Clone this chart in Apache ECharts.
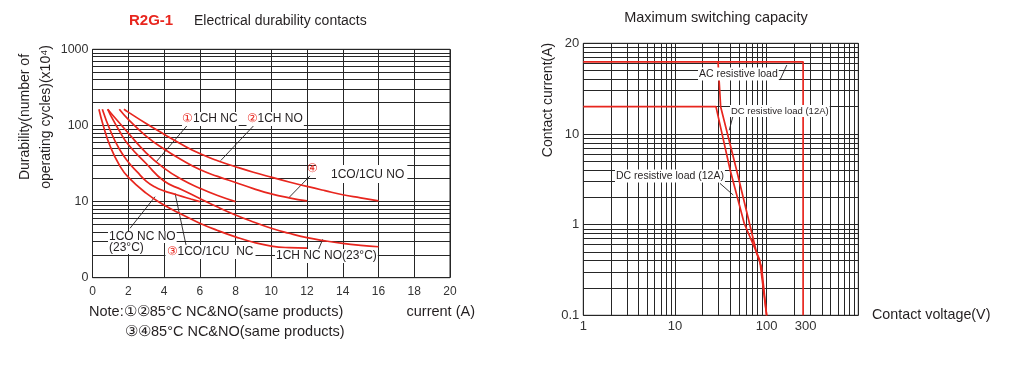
<!DOCTYPE html>
<html>
<head>
<meta charset="utf-8">
<script src="https://cdn.jsdelivr.net/npm/echarts@6/dist/echarts.min.js"></script>
<style>html,body{margin:0;padding:0;background:#fff;}#c{width:1020px;height:377px;}</style>
</head>
<body>
<div id="c"></div>
<script>
// ---------- Left chart: Electrical durability (x: current A, y: cycles x10^4, log) ----------
const curve1CHNC     = [[0.85,163],[1,147.9],[2,79.4],[3,43.7],[4,27.5],[5,19.5],[6,15.0],[7,12.0],[8,10.0]];
const curve1CHNO     = [[1.76,163],[2,149.6],[3,105.9],[4,76.7],[5,56.2],[6,42.7],[7,34.3],[8,28.7],[9,24.3],[10,20.9],[11,18.1],[12,15.8],[13,13.9],[14,12.3],[15,11.2],[16,10.2]];
const curve1CO1CUNC  = [[0.55,163],[1,85.1],[1.5,49],[2,33.1],[2.5,24.5],[3,18.6],[3.5,15.5],[4,13.8],[4.5,12.7],[5,11.7],[5.5,10.8],[6,10.0]];
const curve1CO1CUNO  = [[1.5,163],[2,120.2],[3,72.4],[4,49],[5,35.1],[6,26.3],[7,21.4],[8,17.8],[9,14.8],[10,12.6],[11,11.2],[12,10.2]];
const curve1CONCNO23 = [[0.36,163],[0.6,100],[1,52.5],[1.5,30.2],[2,20.9],[3,12.9],[4,9.0],[5,6.76],[6,5.2],[7,4.17],[8,3.44],[9,2.92],[10,2.6],[11,2.48],[12,2.45]];
const curve1CHNCNO23 = [[0.85,163],[1,138],[1.5,85.1],[2,56.2],[3,31.6],[4,18.6],[5,14.3],[6,11.0],[7,8.47],[8,6.67],[9,5.40],[10,4.46],[11,3.83],[12,3.36],[13,3.05],[14,2.82],[15,2.66],[16,2.55]];
const leftYTickLabels = ['0', '10', '100', '1000'];            // at 1, 10, 100, 1000
const leftMinorY = [2,3,4,5,6,7,8,9,20,30,40,50,60,70,80,90,200,300,400,500,600,700,800,900];

// ---------- Right chart: Maximum switching capacity (log-log) ----------
const acLoad      = [[1,62.5],[250,62.5],[250,0.1]];
const acLoadCurve = [[29.5,62.5],[31.5,20],[47,4],[78,0.48],[88,0.34],[100,0.1]];
const dcLoad      = [[1,20],[28,20],[40,4],[57,1.03],[84,0.41],[100,0.1]];
const rightYTickLabels = ['0.1', '1', '10', '20'];             // at 0.1, 1, 10, 100
const rightXTickPos    = [0, 1, 2, 2.425];                     // log10 positions of labels
const rightXTickLabels = ['1', '10', '100', '300'];
const rightMinorX = [2,3,4,5,6,7,8,9,20,30,40,50,60,70,80,90,200,300,400,500,600,700,800,900];
const rightMinorY = [0.2,0.3,0.4,0.5,0.6,0.7,0.8,0.9,2,3,4,5,6,7,8,9,20,30,40,50,60,70,80,90];

// ---------- Annotation leader lines (data coordinates) ----------
const leftLeaders = [
  [[5.3,100],[3.55,33]],
  [[9.03,100],[7.17,34.5]],
  [[12.17,21.7],[11.01,11.4]],
  [[2.1,4.46],[3.5,11.6]],
  [[5.23,2.69],[4.62,12.8]],
  [[12.63,2.31],[12.88,3.2]]
];
const rightLeaders = [
  [[139.7,39.3],[166,57.5]],
  [[43.2,16.1],[39.1,11.0]],
  [[31,2.85],[43.2,2.12]]
];

const FONT = '"Liberation Sans", Arial, Helvetica, sans-serif';
const RED = '#e8261e';
const INK = '#231f20';
const GRID = '#262626';

const chart = echarts.init(document.getElementById('c'), null, {renderer: 'canvas'});

function gridLines(vals, axisKey) {
  return vals.map(v => ({[axisKey]: v}));
}
const mlBase = {
  silent: true, symbol: 'none', animation: false,
  label: {show: false},
  lineStyle: {type: 'solid', color: GRID, width: 1, opacity: 1},
  emphasis: {disabled: true}
};
function curve(name, data, xi, yi, smooth) {
  return {
    name, type: 'line', data, xAxisIndex: xi, yAxisIndex: yi,
    smooth: smooth ? 0.5 : false,
    showSymbol: false, symbol: 'none', z: 5, silent: true,
    lineStyle: {color: RED, width: 1.7}, itemStyle: {color: RED}
  };
}

const option = {
  animation: false,
  backgroundColor: '#fff',
  grid: [
    {left: 92.5, top: 49.3, width: 357.5, height: 228.4, show: true, borderColor: GRID, borderWidth: 1, backgroundColor: 'transparent', containLabel: false, outerBoundsMode: 'none'},
    {left: 583.3, top: 43.3, width: 275, height: 272, show: true, borderColor: GRID, borderWidth: 1, backgroundColor: 'transparent', containLabel: false, outerBoundsMode: 'none'}
  ],
  xAxis: [
    {gridIndex: 0, type: 'value', min: 0, max: 20, interval: 2, position: 'bottom',
     axisLine: {show: false}, axisTick: {show: false},
     splitLine: {show: true, lineStyle: {color: GRID, width: 1}},
     axisLabel: {fontSize: 12, color: '#333', margin: 8, fontFamily: FONT}},
    {gridIndex: 1, type: 'log', logBase: 10, min: 1, max: 1000, position: 'bottom',
     axisLine: {show: false}, axisTick: {show: false}, axisLabel: {show: false},
     splitLine: {show: true, lineStyle: {color: GRID, width: 1}}},
    {gridIndex: 1, type: 'value', min: 0, max: 3, position: 'bottom',
     axisLine: {show: false}, axisTick: {show: false}, splitLine: {show: false},
     axisLabel: {customValues: rightXTickPos, fontSize: 13, color: '#333', margin: 5, fontFamily: FONT,
       formatter: v => {
         let best = 0;
         rightXTickPos.forEach((p, i) => { if (Math.abs(p - v) < Math.abs(rightXTickPos[best] - v)) best = i; });
         return rightXTickLabels[best];
       }}}
  ],
  yAxis: [
    {gridIndex: 0, type: 'log', logBase: 10, min: 1, max: 1000,
     axisLine: {show: false}, axisTick: {show: false},
     splitLine: {show: true, lineStyle: {color: GRID, width: 1}},
     axisLabel: {fontSize: 12.5, color: '#333', margin: 4, fontFamily: FONT,
       formatter: v => leftYTickLabels[Math.round(Math.log10(v))]}},
    {gridIndex: 1, type: 'log', logBase: 10, min: 0.1, max: 100,
     axisLine: {show: false}, axisTick: {show: false},
     splitLine: {show: true, lineStyle: {color: GRID, width: 1}},
     axisLabel: {fontSize: 13, color: '#333', margin: 4, fontFamily: FONT,
       formatter: v => rightYTickLabels[Math.round(Math.log10(v)) + 1]}}
  ],
  series: [
    {type: 'line', data: [], xAxisIndex: 0, yAxisIndex: 0, z: 1, silent: true,
     markLine: Object.assign({}, mlBase, {data: gridLines(leftMinorY, 'yAxis')})},
    {type: 'line', data: [], xAxisIndex: 1, yAxisIndex: 1, z: 1, silent: true,
     markLine: Object.assign({}, mlBase, {data: gridLines(rightMinorX, 'xAxis').concat(gridLines(rightMinorY, 'yAxis'))})},
    curve('1CH NC', curve1CHNC, 0, 0, true),
    curve('1CH NO', curve1CHNO, 0, 0, true),
    curve('1CO/1CU NC', curve1CO1CUNC, 0, 0, true),
    curve('1CO/1CU NO', curve1CO1CUNO, 0, 0, true),
    curve('1CO NC NO(23°C)', curve1CONCNO23, 0, 0, true),
    curve('1CH NC NO(23°C)', curve1CHNCNO23, 0, 0, true),
    curve('AC resistive load', acLoad, 1, 1, false),
    curve('AC resistive load curve', acLoadCurve, 1, 1, false),
    curve('DC resistive load (12A)', dcLoad, 1, 1, false),
    {type: 'line', data: [], xAxisIndex: 0, yAxisIndex: 0, z: 6, silent: true,
     markLine: Object.assign({}, mlBase, {
       lineStyle: {type: 'solid', color: INK, width: 0.9},
       data: leftLeaders.map(p => [{coord: p[0]}, {coord: p[1]}])})},
    {type: 'line', data: [], xAxisIndex: 1, yAxisIndex: 1, z: 6, silent: true,
     markLine: Object.assign({}, mlBase, {
       symbol: ['none', 'arrow'], symbolSize: [0, 6],
       lineStyle: {type: 'solid', color: INK, width: 0.9},
       data: rightLeaders.map(p => [{coord: p[0]}, {coord: p[1]}])})}
  ],
  graphic: {elements: []}
};

function txt(x, y, text, opt) {
  opt = opt || {};
  return {
    type: 'text', x, y, z: 100, rotation: opt.rotation || 0, silent: true,
    style: Object.assign({
      text, fill: opt.fill || INK, fontSize: opt.fontSize || 12, fontFamily: FONT,
      fontWeight: opt.fontWeight || 'normal',
      align: opt.align || 'left', verticalAlign: 'middle',
      backgroundColor: opt.bg, padding: opt.padding,
      rich: {r: {fill: RED, fontSize: opt.fontSize || 12, fontFamily: FONT}}
    }, opt.extra || {})
  };
}

const g = option.graphic.elements;
// titles
g.push(txt(129, 21, 'R2G-1', {fill: RED, fontSize: 15, fontWeight: 'bold'}));
g.push(txt(194, 21, 'Electrical durability contacts', {fontSize: 14}));
g.push(txt(716, 18, 'Maximum switching capacity', {fontSize: 14.5, align: 'center'}));
// axis names
g.push(txt(25, 117, 'Durability(number of', {fontSize: 14, align: 'center', rotation: Math.PI / 2}));
g.push(txt(46.5, 117, 'operating cycles)(x10⁴)', {fontSize: 14, align: 'center', rotation: Math.PI / 2}));
g.push(txt(548, 100, 'Contact current(A)', {fontSize: 14, align: 'center', rotation: Math.PI / 2}));
g.push(txt(872, 315, 'Contact voltage(V)', {fontSize: 14.3}));
g.push(txt(406.5, 312, 'current (A)', {fontSize: 14.5}));
// notes
g.push(txt(89, 312, 'Note:①②85°C NC&NO(same products)', {fontSize: 14.5}));
g.push(txt(125, 332, '③④85°C NC&NO(same products)', {fontSize: 14.5}));
// left in-plot labels
g.push(txt(182, 119, '{r|①}1CH NC', {bg: '#fff', padding: [1, 1, 1, 0]}));
g.push(txt(246.5, 119, '{r|②}1CH NO', {bg: '#fff', padding: [1, 1, 1, 0]}));
g.push(txt(316, 174, '1CO/1CU NO', {bg: '#fff', padding: [4, 3, 2, 15]}));
g.push(txt(306.5, 169, '④', {fill: RED}));
g.push(txt(108, 237, '1CO NC NO', {bg: '#fff', padding: [0, 1, 0, 1]}));
g.push(txt(108, 248, '(23°C)', {bg: '#fff', padding: [0, 1, 0, 1]}));
g.push(txt(165.5, 252, '{r|③}1CO/1CU  NC', {bg: '#fff', padding: [1, 2, 1, 1]}));
g.push(txt(275, 256, '1CH NC NO(23°C)', {bg: '#fff', padding: [1, 1, 1, 1]}));
// right in-plot labels
g.push(txt(698, 74, 'AC resistive load', {fontSize: 10.5, bg: '#fff', padding: [1, 1, 1, 1]}));
g.push(txt(730, 111, 'DC resistive load (12A)', {fontSize: 9.5, bg: '#fff', padding: [1, 1, 1, 1]}));
g.push(txt(615, 176, 'DC resistive load (12A)', {fontSize: 10.5, bg: '#fff', padding: [1, 1, 1, 1]}));

chart.setOption(option);
</script>
</body>
</html>
